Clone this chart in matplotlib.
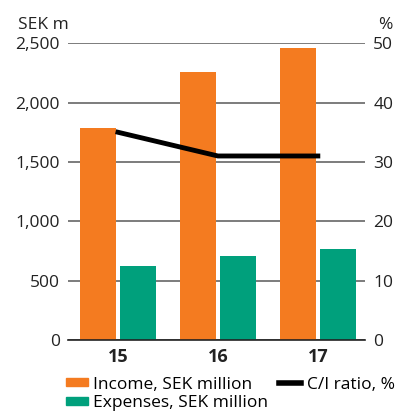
import matplotlib as mpl
import matplotlib.pyplot as plt
import numpy as np
from matplotlib.patches import Rectangle
from matplotlib.lines import Line2D

mpl.rcParams.update({"font.family": ["Open Sans", "DejaVu Sans"], "font.size": 12.5})

years = ["15", "16", "17"]
income = [1790, 2255, 2458]
expenses = [623, 707, 766]
ci_ratio = [35.0, 31.0, 31.0]

left_ticks = [0, 500, 1000, 1500, 2000, 2500]
right_ticks = [0, 10, 20, 30, 40, 50]

ORANGE = "#F47B20"
GREEN = "#00A07C"

fig = plt.figure(figsize=(4.0, 4.12), dpi=100)
ax = fig.add_axes([0.17, 0.175, 0.742, 0.72])
x = np.arange(len(years))
w = 0.36

ax.bar(x - 0.2, income, width=w, color=ORANGE, zorder=2)
ax.bar(x + 0.2, expenses, width=w, color=GREEN, zorder=2)

ax.set_xlim(-0.5, 2.47)
ax.set_ylim(0, 2500)
ax.set_yticks(left_ticks)
ax.set_yticklabels([f"{v:,}" for v in left_ticks])
ax.set_xticks(x)
ax.set_xticklabels(years, fontweight="bold", fontsize=13)
ax.tick_params(axis="both", length=0, pad=6, colors="#222222")
ax.grid(axis="y", color="#666666", linewidth=1.2, zorder=0)
for s in ["top", "left", "right"]:
    ax.spines[s].set_visible(False)
ax.spines["bottom"].set_color("#222222")
ax.spines["bottom"].set_linewidth(1.2)

ax2 = ax.twinx()
ax2.plot(x, ci_ratio, color="black", linewidth=3.5, zorder=5)
ax2.set_ylim(0, 50)
ax2.set_yticks(right_ticks)
ax2.tick_params(axis="y", length=0, pad=6, colors="#222222")
for s in ["top", "left", "right", "bottom"]:
    ax2.spines[s].set_visible(False)

fig.text(0.045, 0.94, "SEK m", ha="left", va="center", fontsize=12.5, color="#222222")
fig.text(0.945, 0.94, "%", ha="left", va="center", fontsize=12.5, color="#222222")

handles = [
    Rectangle((0, 0), 1, 1, color=ORANGE),
    Rectangle((0, 0), 1, 1, color=GREEN),
    Line2D([0], [0], color="black", linewidth=4),
]
labels = ["Income, SEK million", "Expenses, SEK million", "C/I ratio, %"]
fig.legend(handles, labels, ncol=2, loc="lower left", bbox_to_anchor=(0.125, -0.036),
           frameon=False, fontsize=12.5, handlelength=1.3, handleheight=0.35,
           handletextpad=0.3, columnspacing=0.6, labelspacing=0.15)

fig.savefig("out.png", dpi=100, facecolor="white")
